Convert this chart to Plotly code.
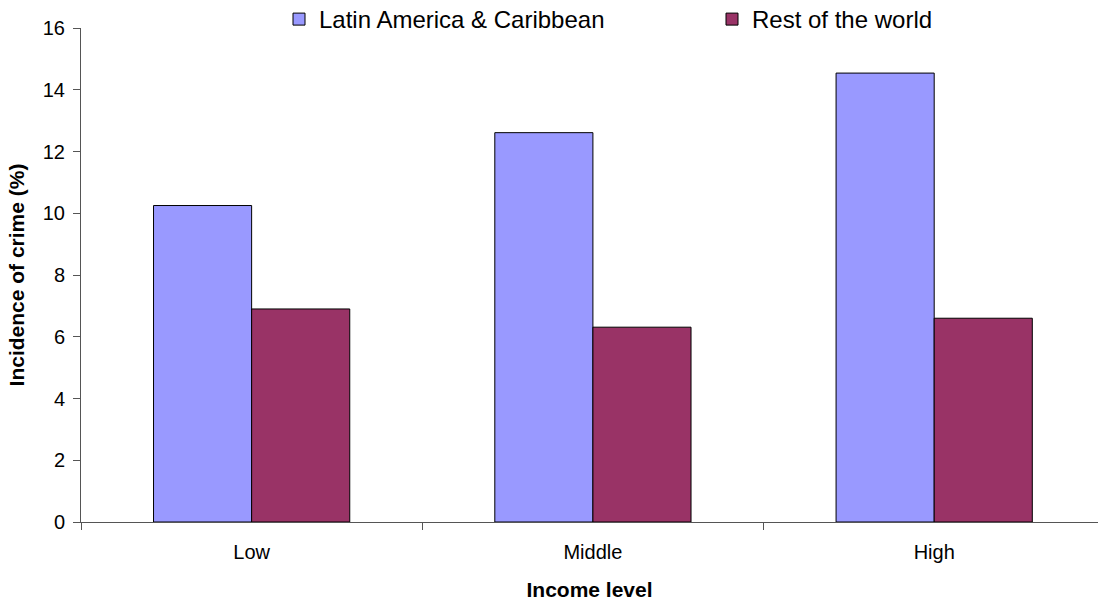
import plotly.graph_objects as go

# Incidence of crime by income level
income_levels = ["Low", "Middle", "High"]
latin_america = [10.25, 12.61, 14.54]
rest_of_world = [6.90, 6.31, 6.60]
y_ticks = [0, 2, 4, 6, 8, 10, 12, 14, 16]

FONT = "Liberation Sans, Arial, sans-serif"
PLOT_LEFT, PLOT_WIDTH = 81, 1098 - 81
FIG_H = 603


def legend_at(left_px):
    """Single-entry horizontal legend whose left edge sits at left_px."""
    return dict(
        orientation="h",
        x=(left_px - PLOT_LEFT) / PLOT_WIDTH, xanchor="left",
        yref="container", y=1 - 19.5 / FIG_H, yanchor="middle",
        font=dict(size=24, family=FONT),
        bgcolor="rgba(0,0,0,0)",
    )


fig = go.Figure()
fig.add_trace(go.Bar(
    name="Latin America & Caribbean",
    x=income_levels, y=latin_america,
    marker=dict(color="#9999FF", line=dict(color="black", width=1)),
    legend="legend",
))
fig.add_trace(go.Bar(
    name="Rest of the world",
    x=income_levels, y=rest_of_world,
    marker=dict(color="#993366", line=dict(color="black", width=1)),
    legend="legend2",
))

fig.update_layout(
    width=1098, height=FIG_H,
    margin=dict(l=81, r=0, t=28, b=81, autoexpand=False),
    paper_bgcolor="white", plot_bgcolor="white",
    font=dict(family=FONT, color="black", size=20),
    barmode="group", bargap=0.425, bargroupgap=0,
    showlegend=True,
    legend=legend_at(279),
    legend2=legend_at(712),
    xaxis=dict(
        type="category",
        range=[-0.5, 2.48],
        showline=True, linecolor="#555555", linewidth=1,
        ticks="outside", tickson="boundaries", ticklen=7,
        tickcolor="#555555",
        ticklabelstandoff=12,
        showgrid=False,
        title=dict(text="<b>Income level</b>", font=dict(size=21), standoff=20),
    ),
    yaxis=dict(
        range=[0, 16],
        tickvals=y_ticks,
        showline=True, linecolor="#555555", linewidth=1,
        ticks="outside", ticklen=7, tickcolor="#555555",
        ticklabelstandoff=4,
        showgrid=False, zeroline=False,
        title=dict(text="<b>Incidence of crime (%)</b>", font=dict(size=21), standoff=12),
    ),
)

fig.write_html("out.html")
